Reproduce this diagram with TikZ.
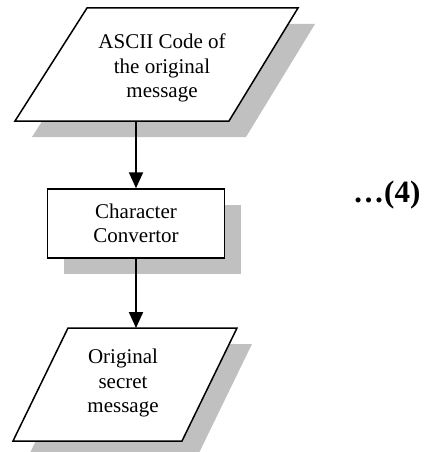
\documentclass[tikz,border=0pt]{standalone}
\usepackage{fontspec}
\setmainfont{Liberation Serif}
\usetikzlibrary{arrows.meta}
\definecolor{shade}{RGB}{192,192,192}
\begin{document}
\begin{tikzpicture}[x=1pt,y=-1pt,
  txt/.style={font=\fontsize{21}{24.5}\selectfont, align=center, inner sep=0pt},
  outline/.style={draw=black, line width=1.5pt, fill=white, line join=miter},
  shadowfill/.style={fill=shade, draw=none},
  flow/.style={line width=2pt, -{Triangle[length=16pt,width=14pt]}}]
\useasboundingbox (0,0) rectangle (426,452);
\clip (0,0) rectangle (426,452);

% input: ASCII code parallelogram with its drop shadow
\fill[shadowfill] (104,24) -- (315,24) -- (246,137) -- (32,137) -- cycle;
\draw[outline] (87,8) -- (298,8) -- (229,121) -- (15,121) -- cycle;
\coordinate (asciiOut) at (136,121);
\node[txt] (ascii) at (162,68) {ASCII Code of\\the original\\message};

% process box with its drop shadow
\fill[shadowfill] (63.5,205) rectangle (240.5,274);
\node[outline, txt, minimum width=177pt, minimum height=69pt] (conv) at (136,223.5) {Character\\Convertor};

% output: secret message parallelogram with its drop shadow
\fill[shadowfill] (83,344) -- (252,344) -- (197,457) -- (28,457) -- cycle;
\draw[outline] (68,328) -- (237,328) -- (182,441) -- (13,441) -- cycle;
\coordinate (secretIn) at (136,328);
\node[txt] (secret) at (123,383) {Original\\secret\\message};

% flow arrows
\draw[flow] (asciiOut) -- (conv.north);
\draw[flow] (conv.south) -- (secretIn);

% equation number
\node[font=\fontsize{31}{36}\selectfont\bfseries, anchor=base west, inner sep=0pt] (eqno) at (353,202) {…(4)};
\end{tikzpicture}
\end{document}
